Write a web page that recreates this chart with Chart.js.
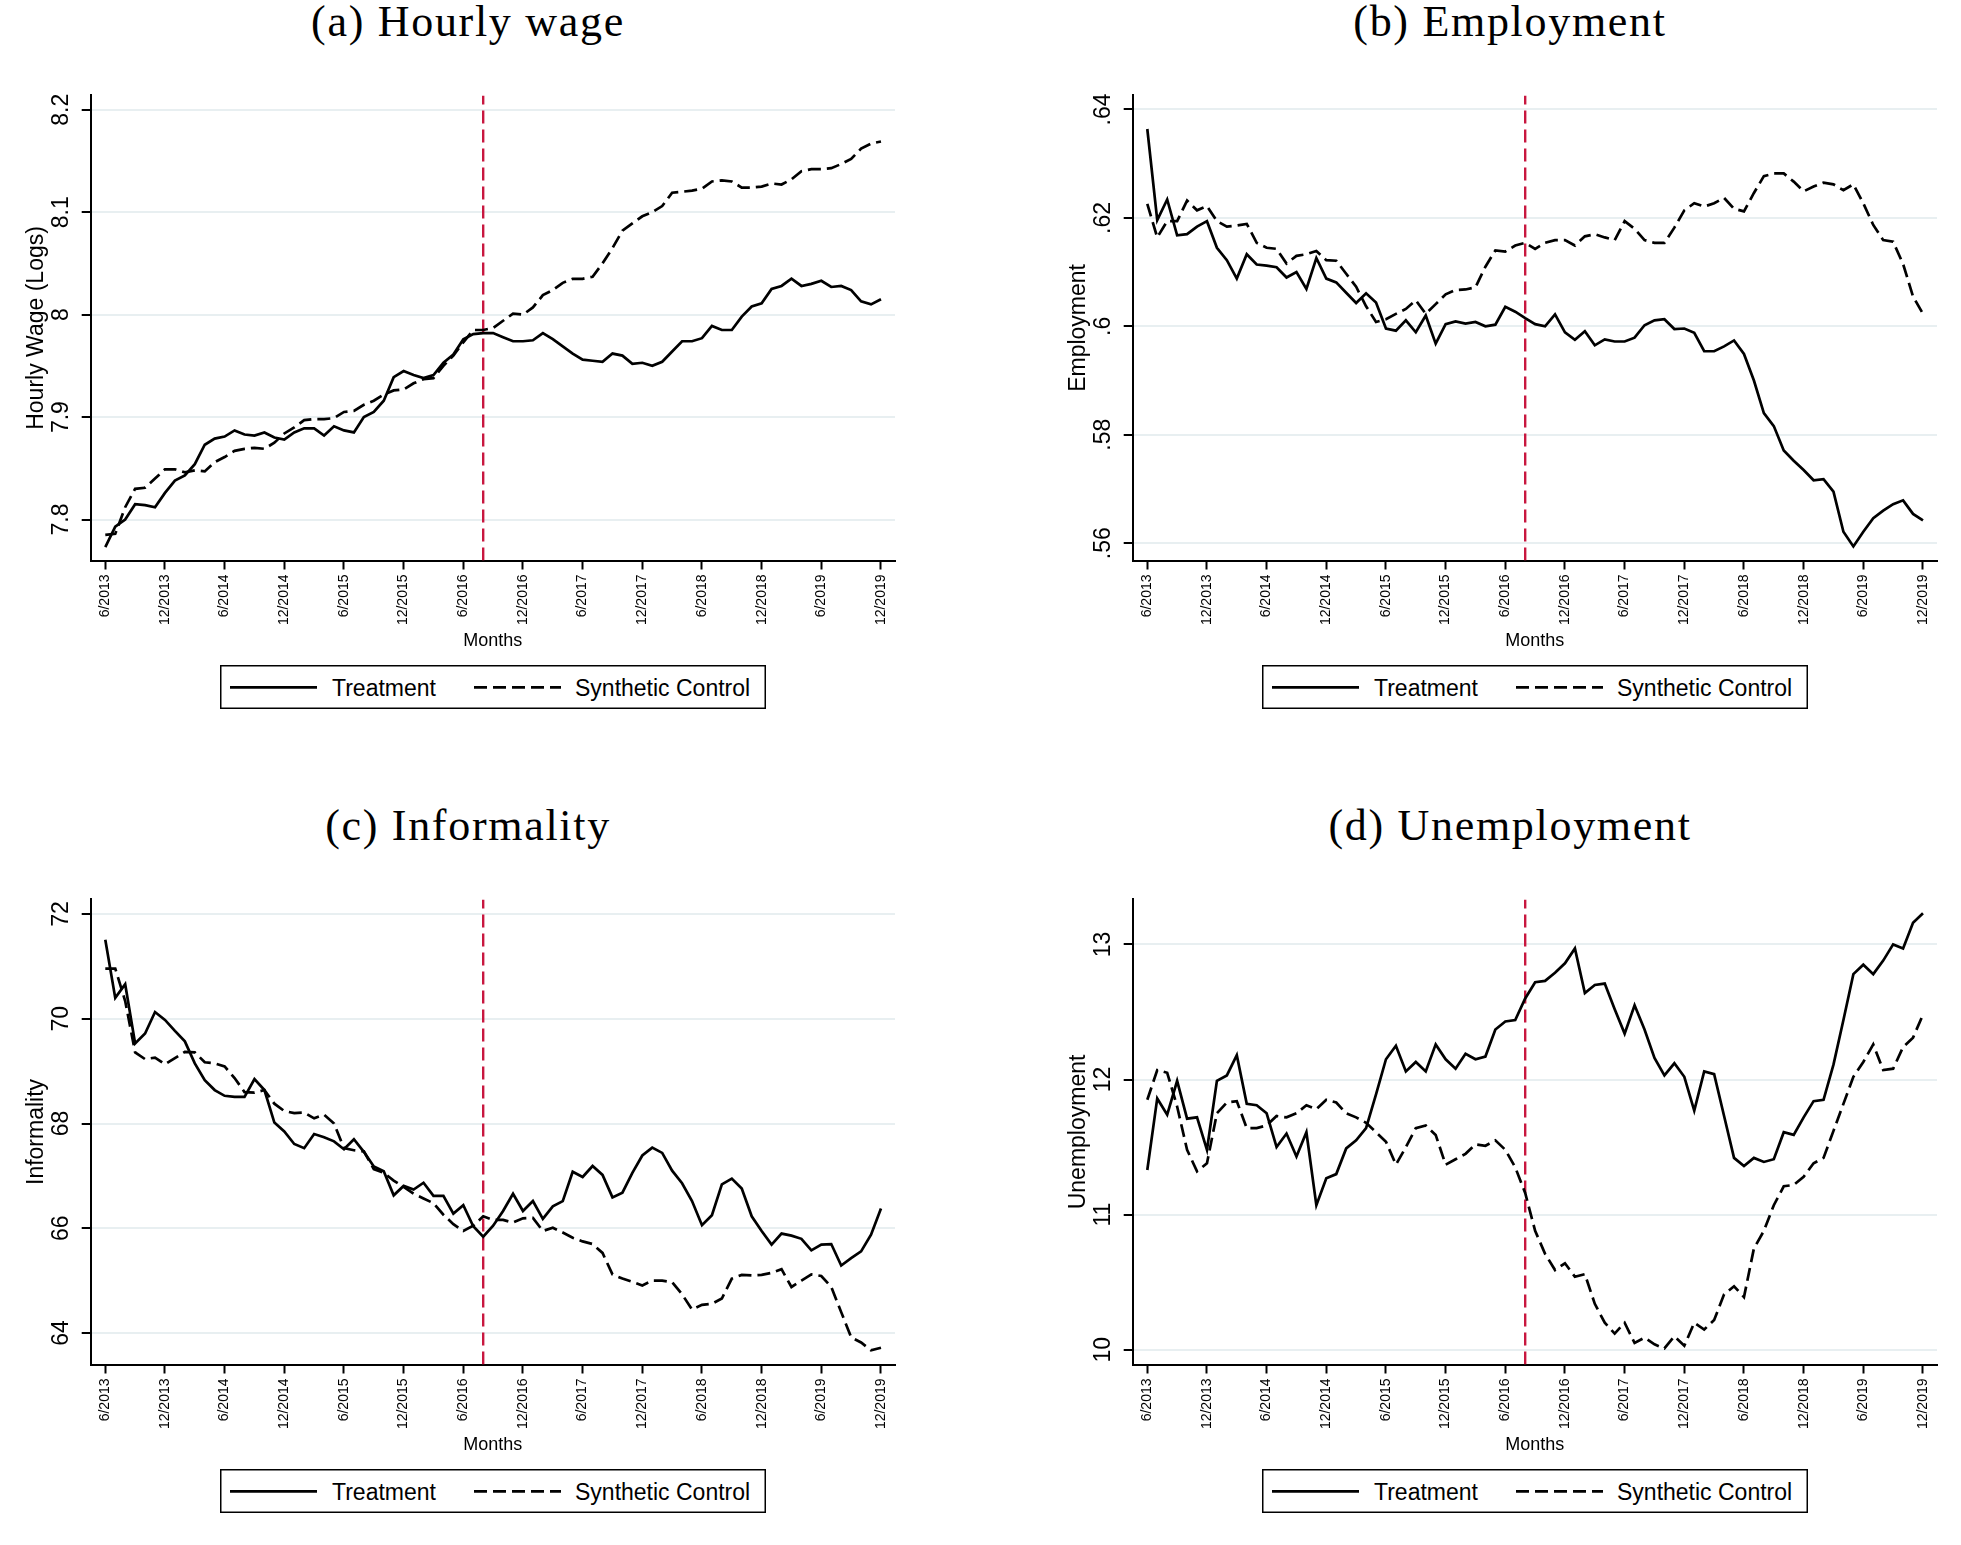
<!DOCTYPE html>
<html>
<head>
<meta charset="utf-8">
<title>Synthetic control</title>
<script src="https://cdn.jsdelivr.net/npm/chart.js@4.4.1/dist/chart.umd.min.js"></script>
<style>
  body { margin: 0; background: #fff; }
  #page { position: relative; width: 1961px; height: 1545px; overflow: hidden; background: #fff; }
  .panel { position: absolute; width: 960px; height: 760px; }
  .panel canvas { position: absolute; left: 0; top: 0; }
  .ttl { position: absolute; top: 0px; transform: translateX(-50%); white-space: nowrap;
         font-family: "Liberation Serif", "Times New Roman", serif; font-size: 44px; line-height: 44px;
         letter-spacing: 1.7px; color: #000; }
  .legend { position: absolute; left: 220px; top: 665px; width: 546px; height: 44px; }
  .legend svg { position: absolute; left: 0; top: 0; }
</style>
</head>
<body>
<div id="page"></div>
<script>
// x axis: months 6/2013 ... 12/2019 (index 0..78)
const tickLabels = ['6/2013', '12/2013', '6/2014', '12/2014', '6/2015', '12/2015', '6/2016',
  '12/2016', '6/2017', '12/2017', '6/2018', '12/2018', '6/2019', '12/2019']
const seriesNames = ['Treatment', 'Synthetic Control']
const panelTitles = ['(a) Hourly wage', '(b) Employment', '(c) Informality', '(d) Unemployment']
const yTitles = ['Hourly Wage (Logs)', 'Employment', 'Informality', 'Unemployment']
const policyMonth = 38 // 8/2016

const wageTreat = [7.773, 7.793, 7.800, 7.815, 7.814, 7.812, 7.826, 7.838, 7.843, 7.854,
  7.873, 7.879, 7.881, 7.887, 7.883, 7.882, 7.885, 7.880, 7.878, 7.885,
  7.889, 7.889, 7.882, 7.891, 7.887, 7.885, 7.900, 7.905, 7.916, 7.939,
  7.945, 7.941, 7.938, 7.941, 7.953, 7.961, 7.976, 7.981, 7.982, 7.982,
  7.978, 7.974, 7.974, 7.975, 7.982, 7.976, 7.969, 7.962, 7.956, 7.955,
  7.954, 7.962, 7.960, 7.952, 7.953, 7.950, 7.954, 7.964, 7.974, 7.974,
  7.977, 7.989, 7.985, 7.985, 7.998, 8.008, 8.011, 8.025, 8.028, 8.035,
  8.028, 8.030, 8.033, 8.027, 8.028, 8.024, 8.013, 8.010, 8.015]
const wageSynth = [7.785, 7.786, 7.812, 7.830, 7.831, 7.840, 7.849, 7.849, 7.846, 7.848,
  7.847, 7.856, 7.861, 7.867, 7.869, 7.870, 7.869, 7.875, 7.884, 7.890,
  7.897, 7.898, 7.898, 7.899, 7.905, 7.906, 7.912, 7.916, 7.922, 7.926,
  7.927, 7.933, 7.937, 7.938, 7.950, 7.960, 7.973, 7.985, 7.985, 7.987,
  7.994, 8.001, 8.000, 8.007, 8.019, 8.024, 8.031, 8.035, 8.035, 8.037,
  8.050, 8.065, 8.082, 8.089, 8.096, 8.100, 8.106, 8.119, 8.120, 8.121,
  8.123, 8.130, 8.131, 8.130, 8.124, 8.124, 8.125, 8.128, 8.127, 8.132,
  8.140, 8.142, 8.142, 8.143, 8.147, 8.152, 8.162, 8.167, 8.169]

const empTreat = [.6364, .6196, .6234, .6168, .6170, .6184, .6194, .6145, .6122, .6088,
  .6133, .6114, .6112, .6109, .6090, .6100, .6069, .6126, .6088, .6081,
  .6062, .6043, .6061, .6044, .5996, .5992, .6011, .5989, .6020, .5968,
  .6004, .6009, .6005, .6008, .6000, .6003, .6036, .6027, .6015, .6004,
  .6000, .6022, .5989, .5975, .5991, .5965, .5976, .5972, .5972, .5979,
  .6002, .6011, .6013, .5995, .5996, .5988, .5954, .5954, .5963, .5974,
  .5949, .5900, .5840, .5816, .5771, .5752, .5735, .5716, .5718, .5695,
  .5621, .5594, .5621, .5646, .5660, .5672, .5679, .5654, .5642]
const empSynth = [.6226, .6164, .6194, .6194, .6232, .6214, .6222, .6194, .6184, .6186,
  .6189, .6154, .6145, .6143, .6116, .6130, .6133, .6139, .6122, .6121,
  .6097, .6073, .6037, .6008, .6013, .6023, .6032, .6048, .6023, .6041,
  .6059, .6067, .6068, .6072, .6110, .6140, .6138, .6149, .6154, .6143,
  .6154, .6159, .6159, .6149, .6166, .6170, .6164, .6159, .6194, .6180,
  .6159, .6154, .6154, .6182, .6214, .6227, .6221, .6227, .6237, .6217,
  .6212, .6246, .6277, .6282, .6282, .6267, .6249, .6258, .6265, .6262,
  .6251, .6262, .6227, .6187, .6159, .6156, .6115, .6055, .6023]

const infTreat = [71.51, 70.40, 70.66, 69.53, 69.72, 70.13, 69.98, 69.77, 69.57, 69.15,
  68.83, 68.64, 68.53, 68.51, 68.51, 68.85, 68.64, 68.02, 67.85, 67.61,
  67.53, 67.80, 67.74, 67.66, 67.51, 67.70, 67.46, 67.18, 67.09, 66.63,
  66.81, 66.74, 66.87, 66.62, 66.62, 66.28, 66.44, 66.04, 65.84, 66.05,
  66.33, 66.66, 66.33, 66.52, 66.18, 66.42, 66.52, 67.08, 66.98, 67.19,
  67.02, 66.59, 66.68, 67.06, 67.39, 67.54, 67.44, 67.10, 66.86, 66.52,
  66.06, 66.25, 66.84, 66.95, 66.76, 66.23, 65.95, 65.69, 65.90, 65.86,
  65.80, 65.58, 65.69, 65.70, 65.29, 65.43, 65.56, 65.88, 66.38]
const infSynth = [70.96, 70.96, 70.34, 69.36, 69.23, 69.26, 69.13, 69.25, 69.37, 69.36,
  69.17, 69.15, 69.09, 68.87, 68.60, 68.59, 68.64, 68.38, 68.24, 68.20,
  68.21, 68.10, 68.17, 68.00, 67.53, 67.49, 67.47, 67.13, 67.06, 66.91,
  66.79, 66.66, 66.57, 66.48, 66.26, 66.08, 65.95, 66.05, 66.23, 66.16,
  66.16, 66.11, 66.19, 66.20, 65.95, 66.01, 65.92, 65.82, 65.75, 65.70,
  65.53, 65.12, 65.04, 64.98, 64.91, 65.00, 65.00, 64.97, 64.74, 64.45,
  64.54, 64.56, 64.66, 65.04, 65.11, 65.10, 65.11, 65.15, 65.22, 64.88,
  65.00, 65.12, 65.09, 64.88, 64.40, 63.92, 63.82, 63.67, 63.72]

const unempTreat = [11.33, 11.86, 11.74, 11.99, 11.71, 11.72, 11.48, 11.99, 12.03, 12.18,
  11.82, 11.81, 11.75, 11.50, 11.60, 11.43, 11.61, 11.07, 11.27, 11.30,
  11.49, 11.55, 11.64, 11.89, 12.15, 12.25, 12.06, 12.13, 12.06, 12.26,
  12.15, 12.08, 12.19, 12.15, 12.17, 12.37, 12.43, 12.44, 12.60, 12.72,
  12.73, 12.79, 12.86, 12.97, 12.64, 12.70, 12.71, 12.52, 12.34, 12.55,
  12.37, 12.16, 12.03, 12.12, 12.02, 11.77, 12.06, 12.04, 11.73, 11.42,
  11.36, 11.42, 11.39, 11.41, 11.61, 11.59, 11.72, 11.84, 11.85, 12.11,
  12.44, 12.78, 12.85, 12.78, 12.88, 13.00, 12.97, 13.16, 13.23]
const unempSynth = [11.85, 12.07, 12.05, 11.80, 11.48, 11.32, 11.38, 11.75, 11.83, 11.84,
  11.64, 11.64, 11.66, 11.73, 11.72, 11.75, 11.81, 11.78, 11.85, 11.83,
  11.75, 11.72, 11.68, 11.61, 11.54, 11.37, 11.50, 11.64, 11.66, 11.59,
  11.37, 11.41, 11.45, 11.52, 11.51, 11.55, 11.48, 11.35, 11.16, 10.88,
  10.71, 10.59, 10.64, 10.54, 10.56, 10.34, 10.20, 10.12, 10.20, 10.05,
  10.09, 10.04, 10.01, 10.10, 10.03, 10.20, 10.15, 10.22, 10.41, 10.47,
  10.39, 10.75, 10.88, 11.07, 11.21, 11.22, 11.28, 11.38, 11.42, 11.62,
  11.82, 12.02, 12.13, 12.26, 12.07, 12.08, 12.24, 12.31, 12.48]

const wageTicks = [7.8, 7.9, 8, 8.1, 8.2]
const wageTickLabels = ['7.8', '7.9', '8', '8.1', '8.2']
const empTicks = [.56, .58, .6, .62, .64]
const empTickLabels = ['.56', '.58', '.6', '.62', '.64']
const infTicks = [64, 66, 68, 70, 72]
const infTickLabels = ['64', '66', '68', '70', '72']
const unempTicks = [10, 11, 12, 13]
const unempTickLabels = ['10', '11', '12', '13']

const sans = '"Liberation Sans", Arial, Helvetica, sans-serif'
const gridColor = '#e8eff1'
const redColor = '#c8173f'
const lineW = 2.7

const panels = [
  { treat: wageTreat, synth: wageSynth, ticks: wageTicks, labels: wageTickLabels, min: 7.760, max: 8.214, pad: 3.7 },
  { treat: empTreat, synth: empSynth, ticks: empTicks, labels: empTickLabels, min: .5568, max: .6426, pad: 3.7 },
  { treat: infTreat, synth: infSynth, ticks: infTicks, labels: infTickLabels, min: 63.40, max: 72.28, pad: 6.9 },
  { treat: unempTreat, synth: unempSynth, ticks: unempTicks, labels: unempTickLabels, min: 9.891, max: 13.333, pad: 6.9 }
]

const page = document.getElementById('page')

function toPoints(arr) {
  return arr.map((v, i) => ({ x: i, y: v }))
}

function addLegend(box) {
  const lg = document.createElement('div')
  lg.className = 'legend'
  lg.innerHTML =
    '<svg width="546" height="44">' +
    '<rect x="0.75" y="0.75" width="544.5" height="42.5" fill="#fff" stroke="#000" stroke-width="1.5"/>' +
    '<line x1="10" y1="22.3" x2="97" y2="22.3" stroke="#000" stroke-width="' + lineW + '"/>' +
    '<text x="112" y="30.6" font-family=\'' + sans + '\' font-size="23" fill="#000">' + seriesNames[0] + '</text>' +
    '<line x1="254" y1="22.3" x2="341" y2="22.3" stroke="#000" stroke-width="' + lineW + '" stroke-dasharray="13 6"/>' +
    '<text x="355" y="30.6" font-family=\'' + sans + '\' font-size="23" fill="#000">' + seriesNames[1] + '</text>' +
    '</svg>'
  box.appendChild(lg)
}

panels.forEach((p, k) => {
  const box = document.createElement('div')
  box.className = 'panel'
  box.style.left = (k % 2) * 1042 + 'px'
  box.style.top = Math.floor(k / 2) * 804 + 'px'
  page.appendChild(box)

  const ttl = document.createElement('div')
  ttl.className = 'ttl'
  ttl.style.left = '468px'
  ttl.textContent = panelTitles[k]
  box.appendChild(ttl)

  const cv = document.createElement('canvas')
  cv.width = 960
  cv.height = 760
  box.appendChild(cv)
  addLegend(box)

  new Chart(cv, {
    type: 'line',
    data: {
      datasets: [{
        label: seriesNames[0],
        data: toPoints(p.treat),
        borderColor: '#000',
        borderWidth: lineW,
        pointRadius: 0,
        tension: 0,
        fill: false
      }, {
        label: seriesNames[1],
        data: toPoints(p.synth),
        borderColor: '#000',
        borderWidth: lineW,
        borderDash: [13, 6],
        pointRadius: 0,
        tension: 0,
        fill: false
      }, {
        label: 'policy',
        data: [{ x: policyMonth, y: p.min }, { x: policyMonth, y: p.max }],
        borderColor: redColor,
        borderWidth: 2.4,
        borderDash: [13, 6],
        pointRadius: 0,
        fill: false
      }]
    },
    options: {
      responsive: false,
      animation: false,
      events: [],
      layout: { padding: { left: 0, top: 95.4, right: 65, bottom: 107.8 } },
      plugins: { legend: { display: false }, tooltip: { enabled: false } },
      scales: {
        x: {
          type: 'linear',
          min: -1.468,
          max: 79.41,
          afterBuildTicks: s => { s.ticks = tickLabels.map((_, j) => ({ value: j * 6 })) },
          afterFit: s => { s.height = 91.7 },
          ticks: {
            callback: (v, j) => tickLabels[j],
            minRotation: 90,
            maxRotation: 90,
            autoSkip: false,
            padding: 5,
            color: '#000',
            font: { family: sans, size: 14 }
          },
          grid: { drawOnChartArea: false, tickLength: 9, tickColor: '#000', tickWidth: 2 },
          border: { color: '#000', width: 2 },
          title: { display: true, text: 'Months', color: '#000', padding: 0, font: { family: sans, size: 18 } }
        },
        y: {
          min: p.min,
          max: p.max,
          afterBuildTicks: s => { s.ticks = p.ticks.map(v => ({ value: v })) },
          afterFit: s => { s.width = 90.7 },
          ticks: {
            callback: (v, j) => p.labels[j],
            minRotation: 90,
            maxRotation: 90,
            crossAlign: 'center',
            padding: p.pad,
            color: '#000',
            font: { family: sans, size: 23 }
          },
          grid: { color: gridColor, lineWidth: 2, tickLength: 9, tickColor: '#000', tickWidth: 2 },
          border: { color: '#000', width: 2 },
          title: { display: true, text: yTitles[k], color: '#000', padding: { top: 22.9, bottom: 0 }, font: { family: sans, size: 23 } }
        }
      }
    }
  })
})
</script>
</body>
</html>
